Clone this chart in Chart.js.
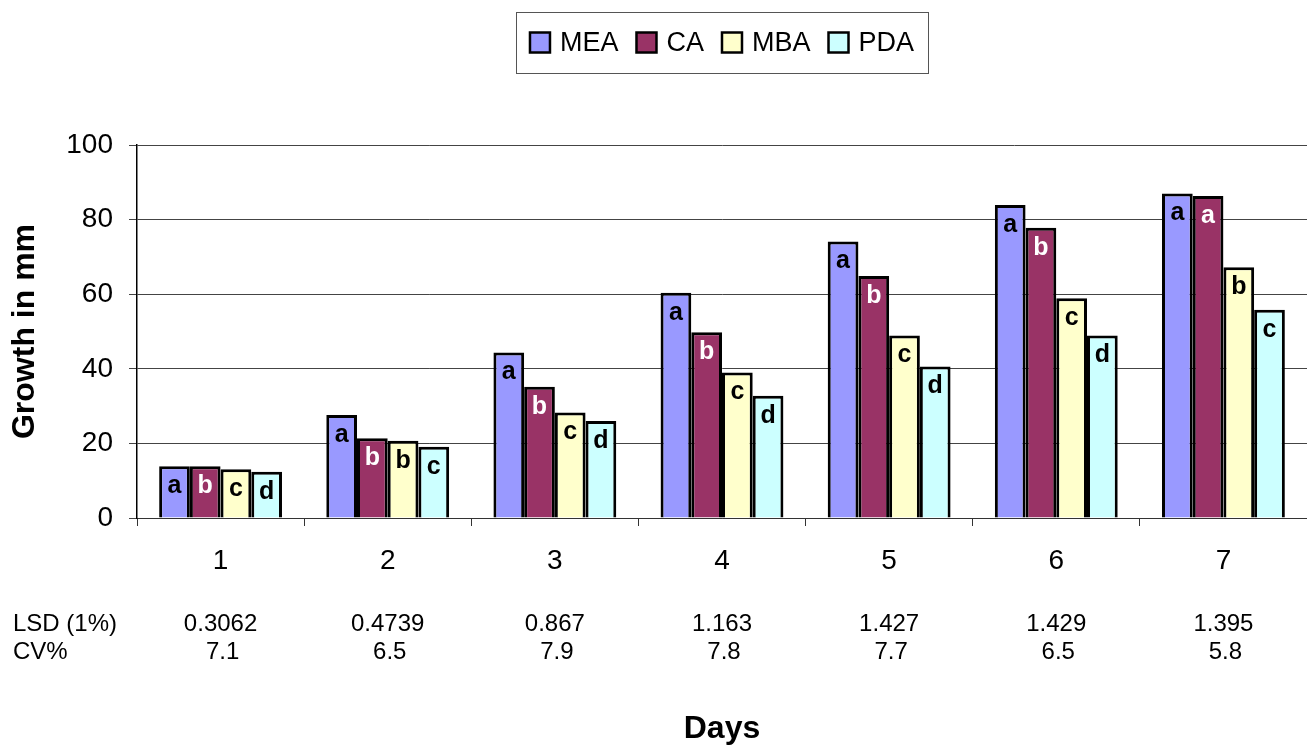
<!DOCTYPE html>
<html>
<head>
<meta charset="utf-8">
<script src="https://cdn.jsdelivr.net/npm/chart.js@4/dist/chart.umd.min.js"></script>
<style>
  html, body { margin: 0; padding: 0; background: #fff; }
  #wrap { width: 1307px; height: 748px; }
</style>
</head>
<body>
<div id="wrap"><canvas id="chart" width="1307" height="748"></canvas></div>
<script>
// days on the x axis
const days = ["1", "2", "3", "4", "5", "6", "7"];

// mean growth in mm
const meaValues = [13.9, 27.6, 44.4, 60.4, 74.1, 83.9, 87.0];
const caValues  = [13.9, 21.4, 35.2, 49.8, 64.9, 77.8, 86.3];
const mbaValues = [13.1, 20.7, 28.3, 39.0, 48.9, 58.9, 67.2];
const pdaValues = [12.4, 19.1, 26.0, 32.8, 40.6, 48.9, 55.8];

// significance letters printed inside the bars
const meaLetters = ["a", "a", "a", "a", "a", "a", "a"];
const caLetters  = ["b", "b", "b", "b", "b", "b", "a"];
const mbaLetters = ["c", "b", "c", "c", "c", "c", "b"];
const pdaLetters = ["d", "c", "d", "d", "d", "d", "c"];

// rows of statistics under the axis
const lsdValues = ["0.3062", "0.4739", "0.867", "1.163", "1.427", "1.429", "1.395"];
const cvValues  = ["7.1", "6.5", "7.9", "7.8", "7.7", "6.5", "5.8"];

const yTicks = [0, 20, 40, 60, 80, 100];

const FONT = '"Liberation Sans", Arial, sans-serif';

function series(label, data, color, letters, letterColor) {
  return {
    label: label,
    data: data,
    backgroundColor: color,
    borderColor: "#000",
    borderWidth: 3,
    borderSkipped: "bottom",
    letters: letters,
    letterColor: letterColor
  };
}

const chartData = {
  labels: days,
  datasets: [
    series("MEA", meaValues, "#9999FF", meaLetters, "#000"),
    series("CA", caValues, "#993366", caLetters, "#fff"),
    series("MBA", mbaValues, "#FFFFCC", mbaLetters, "#000"),
    series("PDA", pdaValues, "#CCFFFF", pdaLetters, "#000")
  ]
};

// letters near the top of each bar
const barLetters = {
  id: "barLetters",
  afterDatasetsDraw(chart) {
    const ctx = chart.ctx;
    ctx.save();
    ctx.font = "bold 25px " + FONT;
    ctx.textAlign = "center";
    ctx.textBaseline = "middle";
    chart.data.datasets.forEach((ds, i) => {
      chart.getDatasetMeta(i).data.forEach((bar, j) => {
        const h = bar.base - bar.y;
        const off = Math.min(20, h / 2);
        ctx.fillStyle = ds.letterColor;
        ctx.fillText(ds.letters[j], bar.x, bar.y + off);
      });
    });
    ctx.restore();
  }
};

// framed legend above the plot
const boxLegend = {
  id: "boxLegend",
  afterDraw(chart) {
    const ctx = chart.ctx;
    const area = chart.chartArea;
    ctx.save();
    ctx.font = "27px " + FONT;
    ctx.textBaseline = "middle";
    const sq = 20, gap = 10, between = 18, pad = 14;
    let total = 0;
    chart.data.datasets.forEach((ds, i) => {
      total += sq + gap + ctx.measureText(ds.label).width;
      if (i < chart.data.datasets.length - 1) total += between;
    });
    const cx = (area.left + area.right) / 2;
    const left = cx - total / 2 - pad;
    const top = 12, height = 61, cy = top + height / 2;
    ctx.strokeStyle = "#555";
    ctx.lineWidth = 1;
    ctx.strokeRect(Math.round(left) + 0.5, top + 0.5, Math.round(total + pad * 2), height);
    let x = cx - total / 2;
    chart.data.datasets.forEach((ds) => {
      ctx.fillStyle = ds.backgroundColor;
      ctx.fillRect(x, cy - sq / 2, sq, sq);
      ctx.strokeStyle = "#000";
      ctx.lineWidth = 2.5;
      ctx.strokeRect(x, cy - sq / 2, sq, sq);
      x += sq + gap;
      ctx.fillStyle = "#000";
      ctx.fillText(ds.label, x, cy + 1);
      x += ctx.measureText(ds.label).width + between;
    });
    ctx.restore();
  }
};

// LSD and CV% rows under the day numbers
const statRows = {
  id: "statRows",
  afterDraw(chart) {
    const ctx = chart.ctx;
    const xs = chart.scales.x;
    ctx.save();
    ctx.font = "24px " + FONT;
    ctx.fillStyle = "#000";
    ctx.textBaseline = "middle";
    ctx.textAlign = "left";
    ctx.fillText("LSD (1%)", 13, 624);
    ctx.fillText("CV%", 13, 652);
    ctx.textAlign = "center";
    days.forEach((d, i) => {
      const x = xs.getPixelForValue(i);
      ctx.fillText(lsdValues[i], x, 624);
      ctx.fillText(cvValues[i], x + 2, 652);
    });
    ctx.restore();
  }
};

new Chart(document.getElementById("chart"), {
  type: "bar",
  data: chartData,
  plugins: [barLetters, boxLegend, statRows],
  options: {
    responsive: false,
    animation: false,
    layout: { padding: { top: 145, left: 0, right: 0, bottom: 0 } },
    datasets: { bar: { categoryPercentage: 0.735, barPercentage: 1.0 } },
    plugins: {
      legend: { display: false },
      tooltip: { enabled: false }
    },
    scales: {
      x: {
        afterFit(scale) { scale.height = 230; },
        grid: { offset: true, drawOnChartArea: false, color: "#333", tickLength: 8 },
        border: { color: "#333", width: 1 },
        ticks: { color: "#000", font: { family: FONT, size: 28 }, padding: 18 },
        title: {
          display: true, text: "Days", color: "#000",
          font: { family: FONT, size: 32, weight: "bold" },
          padding: { top: 0, bottom: 0 }
        }
      },
      y: {
        min: 0, max: 100,
        afterFit(scale) { scale.width = 137; },
        afterBuildTicks(scale) { scale.ticks = yTicks.map(v => ({ value: v })); },
        grid: { color: "#444", lineWidth: 1, tickLength: 8 },
        border: { color: "#000", width: 1.5 },
        ticks: { color: "#000", font: { family: FONT, size: 28 }, padding: 16 },
        title: {
          display: true, text: "Growth in mm", color: "#000",
          font: { family: FONT, size: 32, weight: "bold" },
          padding: { top: 6, bottom: 0 }
        }
      }
    }
  }
});
</script>
</body>
</html>
